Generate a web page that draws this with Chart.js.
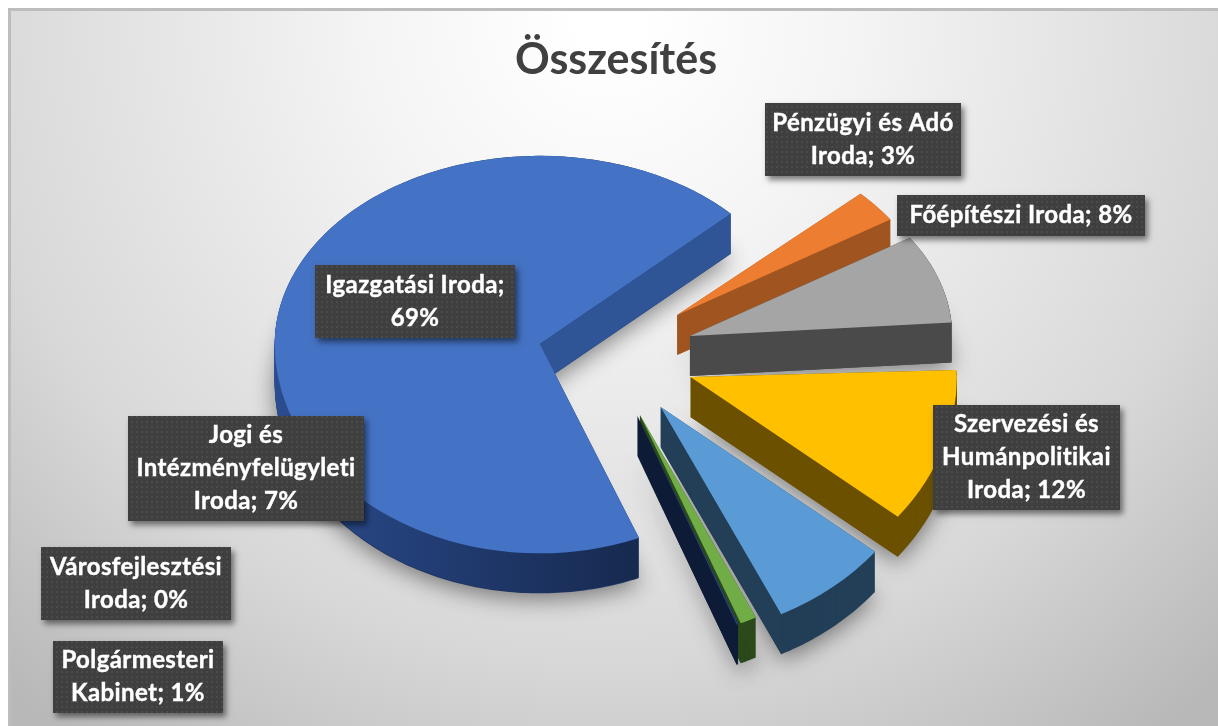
<!DOCTYPE html>
<html lang="hu">
<head>
<meta charset="utf-8">
<title>Összesítés</title>
<script src="https://cdn.jsdelivr.net/npm/chart.js@4"></script>
<style>
  html, body { margin: 0; padding: 0; background: #fff; }
  #wrap { width: 1218px; height: 726px; }
</style>
</head>
<body>
<div id="wrap"><canvas id="myChart" width="1218" height="726"></canvas></div>
<script>
"use strict"

// Adatok
const categories = ["Igazgatási Iroda", "Pénzügyi és Adó Iroda", "Főépítészi Iroda", "Szervezési és Humánpolitikai Iroda", "Jogi és Intézményfelügyleti Iroda", "Polgármesteri Kabinet", "Városfejlesztési Iroda"];
const values = [69, 3, 8, 12, 7, 1, 0.1];
const topColors = ["#4472c4", "#ed7d31", "#a5a5a5", "#ffc000", "#5b9bd5", "#70ad47", "#264478"];
const outerWallColors = ["#1d3360", "#a05520", "#4a4a4a", "#6b5000", "#233f58", "#2c4a1c", "#0d1b36"];
const sideWallColors = ["#2f5597", "#a05520", "#4a4a4a", "#6b5000", "#233f58", "#2c4a1c", "#0d1b36"];
// Címkedobozok: bal, felső, szélesség, magasság
const labelBoxes = [[315, 265, 200, 73], [765, 103, 196, 73], [897, 195, 248, 41], [933, 405, 187, 105], [128, 416, 236, 105], [53, 641, 170, 72], [41, 547, 190, 73]];

// Térhatás: szeletenként kicsit más lapítás, mert az eredeti perspektivikus
const explode = 78;
const depth = 40;
const apexUp = 0.88;
const apexDown = 0.80;
const tiltsUp = [0.71, 0.66, 0.68, 0.35, 0.71, 0.71, 0.71];
const tiltsDown = [0.79, 0.80, 0.80, 0.84, 0.87, 0.85, 0.85];
const widths = [1, 0.96, 0.99, 1.005, 1.04, 1, 1];
const apexShiftX = [0, 0, 0, 0, -4, -8, -8];

function flatY(y, i) {
  return y < 0 ? y * tiltsUp[i] : y * tiltsDown[i];
}

// Egy szelet csúcsa a lapított térben
function sliceApex(arc, i) {
  const mid = (arc.startAngle + arc.endAngle) / 2;
  const s = Math.sin(mid) * explode;
  return {
    ax: arc.x + Math.cos(mid) * explode + apexShiftX[i],
    ay: Math.round(arc.y + (s < 0 ? s * apexUp : s * apexDown))
  };
}

function tracePolygon(ctx, arc, g, i, shift) {
  const r = arc.outerRadius;
  const steps = Math.max(2, Math.ceil((arc.endAngle - arc.startAngle) * 60));
  ctx.beginPath();
  ctx.moveTo(g.ax, g.ay + shift);
  for (let n = 0; n <= steps; n++) {
    const a = arc.startAngle + (arc.endAngle - arc.startAngle) * n / steps;
    ctx.lineTo(g.ax + Math.cos(a) * r * widths[i], g.ay + flatY(Math.sin(a) * r, i) + shift);
  }
  ctx.closePath();
}

// A szelet teteje a Chart.js saját rajzolójával, két lapítással
function drawTop(ctx, arc, g, i, chart) {
  [[tiltsUp[i], -1], [tiltsDown[i], 1]].forEach(([tilt, side]) => {
    ctx.save();
    ctx.beginPath();
    if (side < 0) ctx.rect(0, 0, chart.width, g.ay);
    else ctx.rect(0, g.ay, chart.width, chart.height - g.ay);
    ctx.clip();
    ctx.translate(g.ax, g.ay);
    ctx.scale(widths[i], tilt);
    ctx.translate(-arc.x, -arc.y);
    arc.draw(ctx);
    ctx.restore();
  });
}

const pie3d = {
  id: "pie3d",
  beforeDatasetDraw(chart) {
    const ctx = chart.ctx;
    const arcs = chart.getDatasetMeta(0).data;
    arcs.forEach((arc, i) => {
      const g = sliceApex(arc, i);
      let wall = outerWallColors[i];
      if (i === 0) {
        wall = ctx.createLinearGradient(275, 0, 630, 0);
        wall.addColorStop(0, "#2b4c8f");
        wall.addColorStop(1, "#172a50");
      }
      // vetett árnyék
      ctx.save();
      ctx.shadowColor = "rgba(0,0,0,0.45)";
      ctx.shadowBlur = 22;
      ctx.shadowOffsetY = 6;
      ctx.fillStyle = outerWallColors[i];
      tracePolygon(ctx, arc, g, i, depth);
      ctx.fill();
      ctx.restore();
      // külső fal
      ctx.fillStyle = wall;
      for (let k = depth - 1; k >= 0; k--) {
        tracePolygon(ctx, arc, g, i, k);
        ctx.fill();
      }
      // a szelet vágott oldala
      const ex = g.ax + Math.cos(arc.endAngle) * arc.outerRadius * widths[i];
      const ey = g.ay + flatY(Math.sin(arc.endAngle) * arc.outerRadius, i);
      ctx.fillStyle = sideWallColors[i];
      ctx.beginPath();
      ctx.moveTo(g.ax, g.ay);
      ctx.lineTo(ex, ey);
      ctx.lineTo(ex, ey + depth);
      ctx.lineTo(g.ax, g.ay + depth);
      ctx.closePath();
      ctx.fill();
      drawTop(ctx, arc, g, i, chart);
    });
    return false;
  }
};

// Pöttyös minta a címkékhez
function dotPattern(ctx) {
  const c = document.createElement("canvas");
  c.width = 5;
  c.height = 5;
  const p = c.getContext("2d");
  p.fillStyle = "#3f3f3f";
  p.fillRect(0, 0, 5, 5);
  p.fillStyle = "#4b4b4b";
  p.fillRect(1, 1, 2, 2);
  return ctx.createPattern(c, "repeat");
}

function wrapText(ctx, text, maxWidth) {
  const lines = [];
  let line = "";
  text.split(" ").forEach(word => {
    const test = line ? line + " " + word : word;
    if (line && ctx.measureText(test).width > maxWidth) {
      lines.push(line);
      line = word;
    } else {
      line = test;
    }
  });
  lines.push(line);
  return lines;
}

const dataLabels = {
  id: "dataLabels",
  afterDatasetsDraw(chart) {
    const ctx = chart.ctx;
    const pattern = dotPattern(ctx);
    ctx.save();
    ctx.font = "bold 24px Lato";
    ctx.letterSpacing = "0.4px";
    ctx.textAlign = "center";
    ctx.textBaseline = "middle";
    categories.forEach((name, i) => {
      const [x, y, w, h] = labelBoxes[i];
      ctx.save();
      ctx.shadowColor = "rgba(0,0,0,0.5)";
      ctx.shadowBlur = 6;
      ctx.shadowOffsetX = 3;
      ctx.shadowOffsetY = 4;
      ctx.fillStyle = "#3f3f3f";
      ctx.fillRect(x, y, w, h);
      ctx.restore();
      ctx.fillStyle = pattern;
      ctx.fillRect(x, y, w, h);
      const lines = wrapText(ctx, name + "; " + Math.round(values[i]) + "%", w - 4);
      ctx.fillStyle = "#ffffff";
      ctx.strokeStyle = "#ffffff";
      ctx.lineWidth = 0.4;
      lines.forEach((t, n) => {
        const ty = y + h / 2 + (n - (lines.length - 1) / 2) * 33;
        ctx.fillText(t, x + w / 2, ty);
        ctx.strokeText(t, x + w / 2, ty);
      });
    });
    ctx.restore();
  }
};

// Háttér
const background = {
  id: "background",
  beforeDraw(chart) {
    const ctx = chart.ctx;
    ctx.save();
    ctx.fillStyle = "#ffffff";
    ctx.fillRect(0, 0, chart.width, chart.height);
    const grad = ctx.createRadialGradient(609, 20, 30, 609, 20, 900);
    grad.addColorStop(0, "#ffffff");
    grad.addColorStop(0.25, "#f4f4f4");
    grad.addColorStop(0.7, "#d8d8d8");
    grad.addColorStop(1, "#b8b8b8");
    ctx.fillStyle = grad;
    ctx.fillRect(8, 10, chart.width - 8, chart.height - 10);
    ctx.fillStyle = "#bdbdbd";
    ctx.fillRect(8, 8, chart.width - 8, 3);
    ctx.fillRect(8, 8, 3, chart.height - 8);
    ctx.restore();
  }
};

new Chart(document.getElementById("myChart"), {
  type: "pie",
  data: {
    labels: categories,
    datasets: [{
      data: values,
      backgroundColor: topColors,
      borderWidth: 0
    }]
  },
  plugins: [background, pie3d, dataLabels],
  options: {
    responsive: false,
    animation: false,
    rotation: 158,
    layout: { padding: { left: 351, right: 337, top: 0, bottom: 102 } },
    plugins: {
      legend: { display: false },
      tooltip: { enabled: false },
      title: {
        display: true,
        text: "Összesítés",
        color: "#404040",
        font: { family: "Lato", size: 43, weight: "bold" },
        padding: { top: 34, bottom: 6.4 }
      }
    }
  }
});
</script>
</body>
</html>
